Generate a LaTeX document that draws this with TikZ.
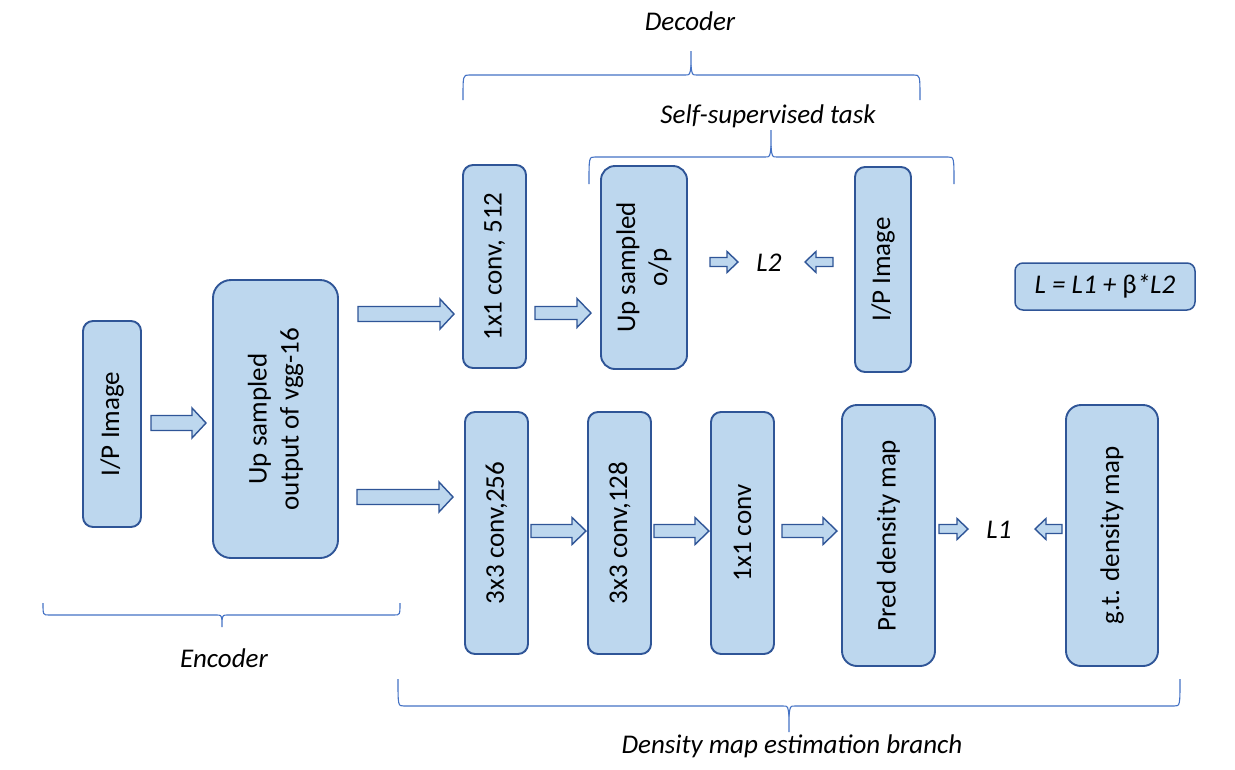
\documentclass[tikz,border=0pt]{standalone}
\usepackage{fontspec}
\setmainfont{Carlito}
\definecolor{boxfill}{HTML}{BDD7EE}
\definecolor{boxline}{HTML}{2F5597}
\definecolor{bracecol}{HTML}{4472C4}
\tikzset{
  blockbox/.style={draw=boxline, fill=boxfill, line width=1.9pt, rounded corners=10pt, inner sep=0pt, align=center, font=\fontsize{27}{32}\selectfont},
  rotbox/.style={blockbox, rotate=90},
  barrow/.style={draw=boxline, fill=boxfill, line width=1.4pt, line join=miter},
  bracesty/.style={draw=bracecol, line width=1.1pt},
  lbl/.style={font=\fontsize{27}{32}\selectfont\itshape, inner sep=0pt},
}
\newcommand{\barr}[6]{\draw[barrow] ({#1},{#4-#5}) -- ({#2},{#4-#5}) -- ({#2},{#4-#6}) -- ({#3},{#4}) -- ({#2},{#4+#6}) -- ({#2},{#4+#5}) -- ({#1},{#4+#5}) -- cycle;}
% L R Y E T P
\newcommand{\hbrace}[6]{%
  \draw[bracesty] ({#1},{#4}) .. controls ({#1},{#3}) .. ({#1+6},{#3}) -- ({#5-6},{#3}) .. controls ({#5-1},{#3}) .. ({#5},{#3+(#6-#3)*0.4}) -- ({#5},{#6});
  \draw[bracesty] ({#2},{#4}) .. controls ({#2},{#3}) .. ({#2-6},{#3}) -- ({#5+6},{#3}) .. controls ({#5+1},{#3}) .. ({#5},{#3+(#6-#3)*0.4});
}
\begin{document}
\begin{tikzpicture}[x=1pt,y=-1pt]
\useasboundingbox (0,0) rectangle (1235,769);
% boxes
\node[rotbox, minimum width=206pt, minimum height=58pt] (ipl) at (112,424) {I/P Image};
\node[rotbox, rounded corners=18pt, minimum width=278pt, minimum height=125pt] (ups) at (275.5,419) {Up sampled\\output of vgg-16};
\node[rotbox, minimum width=203pt, minimum height=63pt] (c512) at (494.5,266.5) {1x1 conv, 512};
\node[rotbox, rounded corners=14pt, minimum width=203pt, minimum height=86pt] (upo) at (644,267.5) {Up sampled\\o/p};
\node[rotbox, minimum width=205pt, minimum height=56pt] (ipr) at (883,269.5) {I/P Image};
\node[blockbox, line width=1.5pt, rounded corners=8pt, minimum width=180pt, minimum height=47pt, font=\fontsize{27}{32}\selectfont] (loss) at (1105,286.5) {\textit{L = L1 +} β\textit{*L2}};
\node[rotbox, minimum width=242pt, minimum height=63pt] (c256) at (496.5,533) {3x3 conv,256};
\node[rotbox, minimum width=242pt, minimum height=63pt] (c128) at (619.5,533) {3x3 conv,128};
\node[rotbox, minimum width=242pt, minimum height=63pt] (c11) at (742.5,533) {1x1 conv};
\node[rotbox, rounded corners=15pt, minimum width=261pt, minimum height=93pt] (pred) at (888.5,535.5) {Pred density map};
\node[rotbox, rounded corners=15pt, minimum width=261pt, minimum height=92pt] (gt) at (1112,535.5) {g.t. density map};
% loss labels
\node[lbl] (l2) at (769,263) {L2};
\node[lbl] (l1) at (999,530) {L1};
% block arrows
\barr{151}{192}{206}{423}{7.5}{15}
\barr{358}{440}{454}{314}{7.5}{15}
\barr{357}{439}{453}{497}{7.5}{15}
\barr{535}{577}{591}{313}{6.5}{14.5}
\barr{531}{572}{586}{531}{6.5}{13.5}
\barr{654}{695}{709}{531}{6.5}{13.5}
\barr{782}{823}{837}{531}{6.5}{13.5}
\barr{710}{727}{738}{262}{4.5}{10.5}
\barr{833}{816}{805}{262}{4.5}{10.5}
\barr{939}{957}{968}{529}{4.5}{10.5}
\barr{1062}{1046}{1035}{529}{4.5}{10.5}
% braces
\hbrace{463}{920}{75}{100}{691}{51}
\hbrace{589}{954}{157}{184}{771}{130}
\hbrace{43}{400}{615}{603}{222}{627}
\hbrace{398}{1180}{706}{679}{789}{732}
% brace labels
\node[lbl] (dec) at (690,21) {Decoder};
\node[lbl] (sst) at (768,116) {Self-supervised task};
\node[lbl] (enc) at (224,658) {Encoder};
\node[lbl] (dme) at (792,746) {Density map estimation branch};
\end{tikzpicture}
\end{document}
